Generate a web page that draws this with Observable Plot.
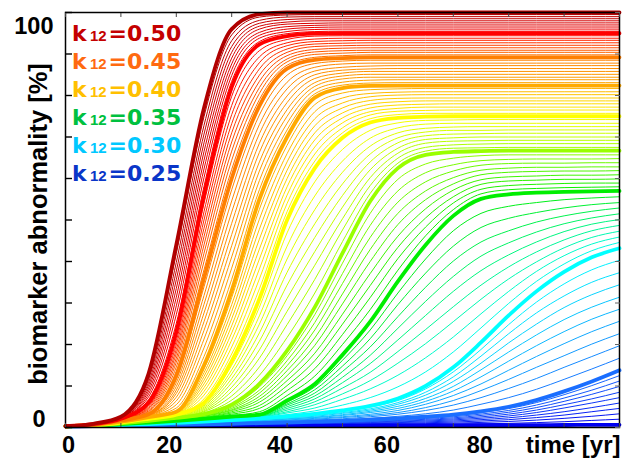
<!DOCTYPE html>
<html>
<head>
<meta charset="utf-8">
<script src="https://cdn.jsdelivr.net/npm/d3@7"></script>
<script src="https://cdn.jsdelivr.net/npm/@observablehq/plot@0.6"></script>
<style>
  html, body { margin: 0; padding: 0; background: #fff; }
</style>
</head>
<body>
<div id="chart"></div>
<script>
// ---------------- DATA ----------------
// time samples [yr]
const times = [0,5,10,15,20,25,30,35,40,45,50,55,60,65,70,75,80,85,90,95,100];

// Each band: first row = thick curve, next 9 rows = thin curves below it (biomarker abnormality, %)
const bandDarkRed = [
  [0.3,0.9,2.6,13,44,77,96,99.6,100,100,100,100,100,100,100,100,100,100,100,100,100],
  [0.3,0.9,2.5,12.3,41.9,74.9,94.6,98.9,99.4,99.5,99.5,99.5,99.5,99.5,99.5,99.5,99.5,99.5,99.5,99.5,99.5],
  [0.3,0.9,2.5,11.6,39.8,72.8,93.2,98.1,98.9,99,99,99,99,99,99,99,99,99,99,99,99],
  [0.3,0.9,2.4,10.9,37.7,70.7,91.8,97.4,98.3,98.5,98.5,98.5,98.5,98.5,98.5,98.5,98.5,98.5,98.5,98.5,98.5],
  [0.3,0.9,2.4,10.2,35.6,68.6,90.4,96.7,97.7,98,98,98,98,98,98,98,98,98,98,98,98],
  [0.3,0.85,2.3,9.5,33.5,66.5,89,96,97.2,97.4,97.5,97.5,97.5,97.5,97.5,97.5,97.5,97.5,97.5,97.5,97.5],
  [0.3,0.84,2.3,8.8,31.4,64.4,87.6,95.2,96.6,96.9,97,97,97,97,97,97,97,97,97,97,97],
  [0.3,0.83,2.2,8.1,29.3,62.3,86.2,94.5,96,96.4,96.5,96.5,96.5,96.5,96.5,96.5,96.5,96.5,96.5,96.5,96.5],
  [0.3,0.82,2.2,7.4,27.2,60.2,84.8,93.8,95.4,95.9,96,96,96,96,96,96,96,96,96,96,96],
  [0.3,0.81,2.1,6.7,25.1,58.1,83.4,93,94.9,95.4,95.5,95.5,95.5,95.5,95.5,95.5,95.5,95.5,95.5,95.5,95.5]
];
const bandRed = [
  [0.3,0.8,2.1,6,23,56,82,92.3,94.3,94.9,95,95,95,95,95,95,95,95,95,95,95],
  [0.3,0.8,2.1,5.7,22,54,79.8,90.8,93.5,94.3,94.4,94.4,94.4,94.4,94.4,94.4,94.4,94.4,94.4,94.4,94.4],
  [0.3,0.8,2,5.4,20.9,52,77.6,89.3,92.7,93.6,93.8,93.8,93.8,93.8,93.8,93.8,93.8,93.8,93.8,93.8,93.8],
  [0.3,0.8,2,5.2,19.9,50,75.4,87.9,92,93,93.2,93.3,93.3,93.3,93.3,93.3,93.3,93.3,93.3,93.3,93.3],
  [0.3,0.8,1.9,4.9,18.8,48,73.2,86.4,91.2,92.4,92.6,92.7,92.7,92.7,92.7,92.7,92.7,92.7,92.7,92.7,92.7],
  [0.3,0.8,1.9,4.6,17.8,46,71,84.9,90.4,91.8,92,92.1,92.1,92.1,92.1,92.1,92.1,92.1,92.1,92.1,92.1],
  [0.3,0.7,1.9,4.3,16.7,44,68.8,83.4,89.6,91.1,91.4,91.5,91.5,91.5,91.5,91.5,91.5,91.5,91.5,91.5,91.5],
  [0.3,0.7,1.8,4,15.7,42,66.6,81.9,88.8,90.5,90.8,90.9,90.9,90.9,90.9,90.9,90.9,90.9,90.9,90.9,90.9],
  [0.3,0.7,1.8,3.8,14.6,40,64.4,80.5,88.1,89.9,90.2,90.4,90.4,90.4,90.4,90.4,90.4,90.4,90.4,90.4,90.4],
  [0.3,0.7,1.7,3.5,13.6,38,62.2,79,87.3,89.2,89.6,89.8,89.8,89.8,89.8,89.8,89.8,89.8,89.8,89.8,89.8]
];
const bandOrange = [
  [0.3,0.7,1.7,3.2,12.5,36,60,77.5,86.5,88.6,89,89.2,89.2,89.2,89.2,89.2,89.2,89.2,89.2,89.2,89.2],
  [0.3,0.7,1.7,3.1,11.6,33.9,57.3,75.3,84.9,87.7,88.3,88.5,88.5,88.5,88.5,88.5,88.5,88.5,88.5,88.5,88.5],
  [0.3,0.7,1.6,3.1,10.8,31.8,54.6,73,83.2,86.8,87.6,87.8,87.8,87.8,87.8,87.8,87.8,87.8,87.8,87.8,87.8],
  [0.3,0.7,1.6,3,9.9,29.7,51.9,70.8,81.6,85.9,86.8,87.1,87.2,87.2,87.2,87.2,87.2,87.2,87.2,87.2,87.2],
  [0.3,0.7,1.6,2.9,9,27.6,49.2,68.5,79.9,85,86.1,86.4,86.5,86.5,86.5,86.5,86.5,86.5,86.5,86.5,86.5],
  [0.3,0.7,1.6,2.9,8.2,25.5,46.5,66.3,78.3,84.1,85.4,85.8,85.8,85.8,85.8,85.8,85.8,85.8,85.8,85.8,85.8],
  [0.3,0.6,1.5,2.8,7.3,23.4,43.8,64,76.6,83.1,84.7,85.1,85.1,85.1,85.1,85.1,85.1,85.1,85.1,85.1,85.1],
  [0.3,0.6,1.5,2.7,6.4,21.3,41.1,61.8,75,82.2,84,84.4,84.4,84.4,84.4,84.4,84.4,84.4,84.4,84.4,84.4],
  [0.3,0.6,1.5,2.6,5.5,19.2,38.4,59.5,73.3,81.3,83.2,83.7,83.8,83.8,83.8,83.8,83.8,83.8,83.8,83.8,83.8],
  [0.3,0.6,1.4,2.6,4.7,17.1,35.7,57.3,71.7,80.4,82.5,83,83.1,83.1,83.1,83.1,83.1,83.1,83.1,83.1,83.1]
];
const bandAmber = [
  [0.3,0.6,1.4,2.5,3.8,15,33,55,70,79.5,81.8,82.3,82.4,82.4,82.4,82.4,82.4,82.4,82.4,82.4,82.4],
  [0.3,0.6,1.4,2.5,3.7,14.1,31.3,52.6,68,77.8,80.6,81.4,81.6,81.7,81.7,81.7,81.7,81.7,81.7,81.7,81.7],
  [0.3,0.6,1.4,2.4,3.7,13.2,29.6,50.2,66,76.1,79.4,80.5,80.8,80.9,80.9,80.9,80.9,80.9,80.9,80.9,80.9],
  [0.3,0.6,1.3,2.4,3.6,12.3,27.9,47.8,64,74.4,78.2,79.7,80.1,80.2,80.2,80.2,80.2,80.2,80.2,80.2,80.2],
  [0.3,0.6,1.3,2.3,3.5,11.4,26.2,45.4,62,72.7,77,78.8,79.3,79.4,79.4,79.4,79.4,79.4,79.4,79.4,79.4],
  [0.3,0.55,1.3,2.3,3.5,10.5,24.5,43,60,71,75.8,77.9,78.5,78.7,78.7,78.7,78.7,78.7,78.7,78.7,78.7],
  [0.3,0.55,1.3,2.3,3.4,9.6,22.8,40.6,58,69.3,74.6,77,77.7,77.9,78,78,78,78,78,78,78],
  [0.3,0.55,1.3,2.2,3.3,8.7,21.1,38.2,56,67.6,73.4,76.1,76.9,77.2,77.2,77.2,77.2,77.2,77.2,77.2,77.2],
  [0.3,0.55,1.2,2.2,3.2,7.8,19.4,35.8,54,65.9,72.2,75.3,76.2,76.4,76.5,76.5,76.5,76.5,76.5,76.5,76.5],
  [0.3,0.55,1.2,2.1,3.2,6.9,17.7,33.4,52,64.2,71,74.4,75.4,75.7,75.7,75.7,75.7,75.7,75.7,75.7,75.7]
];
const bandYellow = [
  [0.3,0.55,1.2,2.1,3.1,6,16,31,50,62.5,69.8,73.5,74.6,74.9,75,75,75,75,75,75,75],
  [0.3,0.55,1.2,2.1,3,5.7,15,29,46.9,59.2,67,71.6,73.4,74,74.1,74.2,74.2,74.2,74.2,74.2,74.2],
  [0.3,0.55,1.2,2,2.9,5.4,13.9,26.9,43.7,55.8,64.2,69.7,72.2,73.1,73.3,73.3,73.3,73.3,73.3,73.3,73.3],
  [0.3,0.55,1.1,2,2.9,5.2,12.9,24.9,40.6,52.5,61.5,67.8,71,72.1,72.4,72.5,72.5,72.5,72.5,72.5,72.5],
  [0.3,0.55,1.1,1.9,2.8,4.9,11.8,22.8,37.4,49.1,58.7,65.9,69.8,71.2,71.6,71.6,71.7,71.7,71.7,71.7,71.7],
  [0.3,0.5,1.1,1.9,2.7,4.6,10.8,20.8,34.3,45.8,55.9,64,68.6,70.3,70.7,70.8,70.9,70.9,70.9,70.9,70.9],
  [0.3,0.5,1.1,1.8,2.6,4.3,9.7,18.7,31.1,42.4,53.1,62.1,67.3,69.4,69.8,70,70,70,70,70,70],
  [0.3,0.5,1.1,1.8,2.5,4,8.7,16.7,28,39.1,50.3,60.2,66.1,68.5,69,69.1,69.2,69.2,69.2,69.2,69.2],
  [0.3,0.5,1,1.7,2.5,3.8,7.6,14.6,24.8,35.7,47.6,58.3,64.9,67.5,68.1,68.3,68.4,68.4,68.4,68.4,68.4],
  [0.3,0.5,1,1.7,2.4,3.5,6.6,12.6,21.7,32.4,44.8,56.4,63.7,66.6,67.3,67.4,67.5,67.5,67.5,67.5,67.5]
];
const bandLime = [
  [0.3,0.5,1,1.6,2.3,3.2,5.5,10.5,18.5,29,42,54.5,62.5,65.7,66.4,66.6,66.7,66.7,66.7,66.7,66.7],
  [0.3,0.5,1,1.6,2.2,3.1,5.2,9.8,17.3,27.2,39.6,51.6,59.8,63.5,64.9,65.5,65.7,65.7,65.7,65.7,65.7],
  [0.3,0.5,1,1.5,2.2,3,4.9,9,16.1,25.3,37.1,48.7,57,61.4,63.3,64.3,64.6,64.7,64.7,64.7,64.8],
  [0.3,0.5,0.9,1.5,2.1,2.9,4.6,8.3,14.9,23.5,34.7,45.8,54.3,59.2,61.8,63.2,63.6,63.7,63.7,63.8,63.8],
  [0.3,0.5,0.9,1.4,2,2.8,4.3,7.5,13.7,21.6,32.2,42.9,51.6,57,60.2,62,62.5,62.7,62.7,62.8,62.8],
  [0.3,0.45,0.9,1.4,2,2.7,4.1,6.8,12.5,19.8,29.8,40,48.9,54.9,58.7,60.9,61.5,61.7,61.8,61.8,61.9],
  [0.3,0.45,0.9,1.4,1.9,2.5,3.8,6.1,11.3,17.9,27.3,37.1,46.1,52.7,57.2,59.7,60.4,60.6,60.8,60.8,60.9],
  [0.3,0.45,0.9,1.3,1.8,2.4,3.5,5.3,10.1,16.1,24.9,34.2,43.4,50.5,55.6,58.6,59.4,59.6,59.8,59.8,59.9],
  [0.3,0.45,0.8,1.3,1.7,2.3,3.2,4.6,8.9,14.2,22.4,31.3,40.7,48.3,54.1,57.4,58.3,58.6,58.8,58.9,58.9],
  [0.3,0.45,0.8,1.2,1.7,2.2,2.9,3.8,7.7,12.4,20,28.4,37.9,46.2,52.5,56.3,57.3,57.6,57.8,57.9,58]
];
const bandGreen = [
  [0.3,0.45,0.8,1.2,1.6,2.1,2.6,3.1,6.5,10.5,17.5,25.5,35.2,44,51,55.1,56.2,56.6,56.8,56.9,57],
  [0.3,0.45,0.8,1.2,1.6,2,2.5,3,6.1,9.8,16.2,23.5,32.4,40.6,47.4,51.6,53.3,54.2,54.9,55.3,55.6],
  [0.3,0.45,0.8,1.1,1.5,2,2.4,2.9,5.7,9.1,14.8,21.4,29.6,37.2,43.7,48.2,50.4,51.8,52.9,53.7,54.2],
  [0.3,0.45,0.7,1.1,1.5,1.9,2.4,2.8,5.4,8.3,13.5,19.4,26.7,33.8,40.1,44.7,47.4,49.5,51,52.1,52.9],
  [0.3,0.45,0.7,1,1.4,1.8,2.3,2.7,5,7.6,12.1,17.4,23.9,30.4,36.4,41.3,44.5,47.1,49.1,50.5,51.5],
  [0.3,0.4,0.7,1,1.4,1.8,2.2,2.7,4.6,6.9,10.8,15.4,21.1,27,32.8,37.8,41.6,44.7,47.2,49,50.1],
  [0.3,0.4,0.7,1,1.3,1.7,2.1,2.6,4.2,6.2,9.5,13.3,18.3,23.6,29.1,34.3,38.7,42.3,45.2,47.4,48.7],
  [0.3,0.4,0.7,0.9,1.3,1.6,2,2.5,3.8,5.5,8.1,11.3,15.5,20.2,25.5,30.9,35.8,39.9,43.3,45.8,47.3],
  [0.3,0.4,0.6,0.9,1.2,1.5,2,2.4,3.5,4.7,6.8,9.3,12.6,16.8,21.8,27.4,32.8,37.6,41.4,44.2,45.9],
  [0.3,0.4,0.6,0.8,1.2,1.5,1.9,2.3,3.1,4,5.4,7.2,9.8,13.4,18.2,24,29.9,35.2,39.4,42.6,44.6]
];
const bandCyan = [
  [0.3,0.4,0.6,0.8,1.1,1.4,1.8,2.2,2.7,3.3,4.1,5.2,7,10,14.5,20.5,27,32.8,37.5,41,43.2],
  [0.3,0.4,0.59,0.78,1.06,1.34,1.7,2.1,2.6,3.1,3.9,4.9,6.5,9.3,13.4,18.8,24.8,30.2,34.6,38,40.3],
  [0.3,0.4,0.57,0.75,1.01,1.27,1.6,2,2.4,2.9,3.6,4.5,6,8.5,12.2,17.2,22.6,27.6,31.7,35,37.3],
  [0.3,0.4,0.56,0.73,0.97,1.21,1.5,1.9,2.3,2.7,3.4,4.2,5.6,7.8,11.1,15.5,20.4,24.9,28.9,32,34.4],
  [0.3,0.4,0.54,0.7,0.92,1.14,1.4,1.7,2.1,2.5,3.1,3.9,5.1,7,9.9,13.9,18.2,22.3,26,29,31.4],
  [0.3,0.38,0.53,0.68,0.88,1.08,1.35,1.6,2,2.4,2.9,3.6,4.6,6.3,8.8,12.2,16,19.7,23.1,26.1,28.5],
  [0.3,0.37,0.51,0.65,0.83,1.01,1.25,1.5,1.8,2.2,2.6,3.2,4.1,5.6,7.7,10.5,13.8,17.1,20.2,23.1,25.6],
  [0.3,0.37,0.5,0.63,0.79,0.95,1.15,1.4,1.7,2,2.4,2.9,3.6,4.8,6.5,8.9,11.6,14.5,17.3,20.1,22.6],
  [0.3,0.36,0.48,0.6,0.74,0.88,1.1,1.3,1.5,1.8,2.1,2.6,3.2,4.1,5.4,7.2,9.4,11.8,14.5,17.1,19.7],
  [0.3,0.36,0.47,0.58,0.7,0.82,1,1.2,1.4,1.6,1.9,2.2,2.7,3.3,4.2,5.6,7.2,9.2,11.6,14.1,16.7]
];
const bandBlue = [
  [0.3,0.35,0.45,0.55,0.65,0.75,0.9,1.05,1.2,1.4,1.6,1.9,2.2,2.6,3.1,3.9,5,6.6,8.7,11.1,13.8],
  [0.3,0.35,0.44,0.53,0.62,0.71,0.85,0.99,1.12,1.3,1.49,1.76,2.03,2.39,2.84,3.57,4.56,6,7.9,10.1,12.5],
  [0.3,0.34,0.43,0.51,0.59,0.68,0.8,0.92,1.05,1.21,1.37,1.62,1.86,2.18,2.59,3.23,4.11,5.4,7.1,9,11.2],
  [0.3,0.34,0.41,0.49,0.56,0.64,0.75,0.86,0.97,1.11,1.26,1.47,1.69,1.97,2.33,2.9,3.67,4.8,6.3,8,9.9],
  [0.3,0.33,0.4,0.47,0.53,0.6,0.7,0.79,0.89,1.02,1.14,1.33,1.52,1.76,2.07,2.56,3.22,4.2,5.5,6.9,8.5],
  [0.3,0.33,0.39,0.45,0.51,0.57,0.65,0.73,0.82,0.93,1.03,1.19,1.35,1.56,1.82,2.23,2.78,3.6,4.7,5.9,7.2],
  [0.3,0.33,0.38,0.43,0.48,0.53,0.6,0.67,0.74,0.83,0.92,1.05,1.18,1.35,1.56,1.89,2.34,2.99,3.8,4.8,5.9],
  [0.3,0.32,0.37,0.41,0.45,0.49,0.55,0.6,0.66,0.74,0.8,0.91,1.01,1.14,1.3,1.56,1.89,2.39,3,3.8,4.6],
  [0.3,0.32,0.35,0.39,0.42,0.45,0.5,0.54,0.58,0.64,0.69,0.76,0.84,0.93,1.04,1.22,1.45,1.78,2.2,2.7,3.3],
  [0.3,0.31,0.34,0.37,0.39,0.42,0.45,0.47,0.51,0.55,0.57,0.62,0.67,0.72,0.79,0.89,1,1.18,1.4,1.7,2]
];
// k12 = 0.25 (thick, bottom)
const curveK025 = [0.3,0.31,0.33,0.35,0.36,0.38,0.4,0.41,0.43,0.45,0.46,0.48,0.5,0.51,0.53,0.55,0.56,0.58,0.6,0.62,0.64];

// legend and axis texts
const legendK = ["0.50","0.45","0.40","0.35","0.30","0.25"];
const xTickLabels = [0, 20, 40, 60, 80];
const yTickLabels = [0, 100];
const minorTicks = [0,10,20,30,40,50,60,70,80,90,100];
const xTitle = "time [yr]";
const yTitle = "biomarker abnormality [%]";

// ---------------- STYLE ----------------
const thickColors = ["#b00000","#ff0000","#ff7f00","#ffaa00","#ffff00","#99ff00","#00ee00","#00ffff","#1a6eff","#0000f0"];
const legendColors = ["#c40000","#ff6a10","#ffc000","#00c040","#00c8ff","#0a36c8"];
const sansBold = "'Liberation Sans', Arial, Helvetica, sans-serif";
const legendFont = "'DejaVu Sans', Verdana, sans-serif";

const allCurves = [...bandDarkRed, ...bandRed, ...bandOrange, ...bandAmber, ...bandYellow,
                   ...bandLime, ...bandGreen, ...bandCyan, ...bandBlue, curveK025];
const colorOf = d3.scaleLinear()
  .domain(thickColors.map((_, i) => i * 10))
  .range(thickColors)
  .interpolate(d3.interpolateRgb);

const series = allCurves.map((vals, c) =>
  vals.map((v, i) => ({curve: c, t: times[i], v, color: colorOf(c), thick: c % 10 === 0})));
const ordered = series.slice().reverse();   // higher k drawn on top
const thinRows = ordered.filter(s => !s[0].thick).flat();
const thickRows = ordered.filter(s => s[0].thick).flat();

const blank = () => "";
const tickFont = {fontSize: 23.5, fontWeight: "bold", fontFamily: sansBold, label: null};
const marks = [
  Plot.line(thinRows, {x: "t", y: "v", z: "curve", stroke: "color", strokeWidth: 1, curve: "monotone-x"}),
  Plot.line(thickRows, {x: "t", y: "v", z: "curve", stroke: "color", strokeWidth: 3.8, curve: "monotone-x"}),
  Plot.frame({stroke: "#000", strokeWidth: 1.5}),
  // inward ticks on all four sides
  Plot.axisY({anchor: "left", ticks: minorTicks, tickSize: -7, tickFormat: blank, strokeWidth: 1.4, label: null}),
  Plot.axisY({anchor: "right", ticks: minorTicks, tickSize: -5, tickFormat: blank, stroke: "#666", label: null}),
  Plot.axisX({anchor: "top", ticks: minorTicks, tickSize: -4, tickFormat: blank, stroke: "#444", label: null}),
  Plot.axisX({anchor: "bottom", ticks: minorTicks, tickSize: -4, tickFormat: blank, stroke: "#444", label: null}),
  // tick labels
  Plot.axisX({anchor: "bottom", ticks: [xTickLabels[0]], tickSize: 0, tickPadding: 9, dx: 3, ...tickFont}),
  Plot.axisX({anchor: "bottom", ticks: [xTickLabels[1], xTickLabels[2]], tickSize: 0, tickPadding: 9, dx: -7, ...tickFont}),
  Plot.axisX({anchor: "bottom", ticks: [xTickLabels[3]], tickSize: 0, tickPadding: 9, dx: -11, ...tickFont}),
  Plot.axisX({anchor: "bottom", ticks: [xTickLabels[4]], tickSize: 0, tickPadding: 9, dx: -29, ...tickFont}),
  Plot.axisY({anchor: "left", ticks: [yTickLabels[1]], tickSize: 0, tickPadding: 12, dy: 13.5, ...tickFont}),
  Plot.axisY({anchor: "left", ticks: [yTickLabels[0]], tickSize: 0, tickPadding: 20, dy: -8.2, ...tickFont}),
  // axis titles
  Plot.text([yTitle], {frameAnchor: "left", rotate: -90, textAnchor: "middle", lineAnchor: "middle",
              dx: -26.2, dy: 4, text: d => d, fontSize: 25.5, fontWeight: "bold", fontFamily: sansBold, fill: "#000"}),
  Plot.text([xTitle], {frameAnchor: "bottom-right", textAnchor: "end", lineAnchor: "top",
              dx: 1, dy: 8, text: d => d, fontSize: 24, fontWeight: "bold", fontFamily: sansBold, fill: "#000"})
];

// legend rows: "k" + small "12" + "=0.50"
legendK.forEach((lab, i) => {
  const base = {frameAnchor: "top-left", textAnchor: "start", lineAnchor: "bottom", dy: 28 * (i + 1),
                fill: legendColors[i], fontWeight: "bold"};
  marks.push(Plot.text([lab], {...base, dx: 6.5, text: () => "k", fontSize: 22, fontFamily: legendFont}));
  marks.push(Plot.text([lab], {...base, dx: 24.5, text: () => "12", fontSize: 15, fontFamily: sansBold}));
  marks.push(Plot.text([lab], {...base, dx: 43, text: d => "=" + d, fontSize: 22, fontFamily: legendFont}));
});

const chart = Plot.plot({
  width: 628,
  height: 458,
  marginLeft: 65,
  marginRight: 9,
  marginTop: 12,
  marginBottom: 31,
  x: {domain: [0, 100], axis: null},
  y: {domain: [0, 100], axis: null},
  color: {type: "identity"},
  style: {background: "#fff", fontFamily: sansBold, color: "#000"},
  marks
});
document.getElementById("chart").appendChild(chart);
</script>
</body>
</html>
